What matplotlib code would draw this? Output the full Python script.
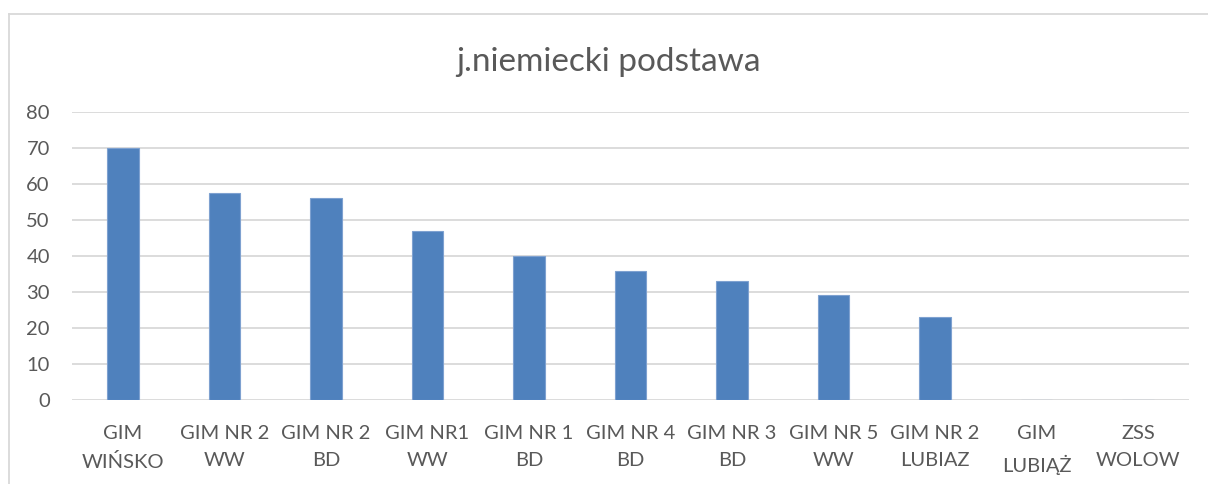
import matplotlib
matplotlib.use("Agg")
import matplotlib.pyplot as plt
from matplotlib.lines import Line2D

categories = ["GIM\nWIŃSKO", "GIM NR 2\nWW", "GIM NR 2\nBD", "GIM NR1\nWW", "GIM NR 1\nBD",
              "GIM NR 4\nBD", "GIM NR 3\nBD", "GIM NR 5\nWW", "GIM NR 2\nLUBIAZ", "GIM\nLUBIĄŻ",
              "ZSS\nWOLOW"]
values = [70, 57.6, 56, 47, 40, 35.7, 33, 29.2, 23, 0, 0]
yticks = [0, 10, 20, 30, 40, 50, 60, 70, 80]
title = "j.niemiecki podstawa"

plt.rcParams['font.family'] = ['Lato', 'DejaVu Sans']
txt = '#595959'

fig = plt.figure(figsize=(12.08, 4.84), dpi=100)
ax = fig.add_axes([72/1208, 84/484, (1189-72)/1208, (400-112)/484])

x = list(range(len(categories)))
ax.bar(x, values, width=0.31, color='#4F81BD', edgecolor='#7EA1D0', linewidth=0.8, zorder=3)
ax.set_xlim(-0.5, len(categories) - 0.5)
ax.set_ylim(0, 80)
ax.set_yticks(yticks)
ax.set_yticklabels([str(t) for t in yticks], fontsize=14.5, color=txt)
ax.set_xticks(x)
ax.set_xticklabels(categories, fontsize=14.5, color=txt, linespacing=1.75)
ax.tick_params(axis='both', length=0)
ax.tick_params(axis='y', pad=16)
ax.tick_params(axis='x', pad=18)
ax.grid(axis='y', color='#D9D9D9', linewidth=1.3, zorder=0)
for s in ax.spines.values():
    s.set_visible(False)

fig.text(608/1208, 1 - 62/484, title, ha='center', va='center', fontsize=24, color=txt)

# chart border (left and top visible)
fig.add_artist(Line2D([9/1208, 9/1208], [0, 1 - 14/484], color='#D9D9D9', linewidth=1.3, transform=fig.transFigure))
fig.add_artist(Line2D([9/1208, 1], [1 - 14/484, 1 - 14/484], color='#D9D9D9', linewidth=1.3, transform=fig.transFigure))

fig.savefig("out.png", dpi=100)
